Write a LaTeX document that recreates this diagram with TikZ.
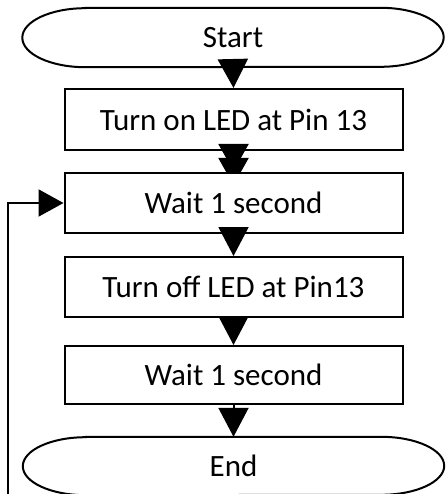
\documentclass[tikz,border=0pt]{standalone}
\usepackage{fontspec}
\setmainfont{Carlito}
\usetikzlibrary{arrows.meta,backgrounds}
\begin{document}
\begin{tikzpicture}[x=1pt,y=1pt,
  every node/.style={font=\fontsize{31pt}{37pt}\selectfont},
  ln/.style={line width=2pt,black},
  term/.style={minimum width=421pt,minimum height=59pt,inner sep=0pt},
  procbox/.style={draw,line width=2pt,minimum width=338pt,minimum height=60pt,inner sep=0pt},
  arr/.style={ln,-{Triangle[width=30pt,length=29pt]}},
  dbl/.style={ln,-{Triangle[width=30pt,length=27pt,sep=-13pt]Triangle[width=30pt,length=27pt]},shorten >=-13pt}
]
\useasboundingbox (0,0) rectangle (445,-494);
\node[term] (start) at (233,-37.5) {Start};
\node[procbox,minimum height=61pt] (b1) at (233.5,-119.5) {Turn on LED at Pin 13};
\node[procbox,fill=white] (b2) at (233.5,-203) {Wait 1 second};
\node[procbox] (b3) at (233.5,-287) {Turn off LED at Pin13};
\node[procbox,minimum height=58pt] (b4) at (233.5,-375) {Wait 1 second};
\node[term,minimum height=58pt] (end) at (233.5,-466) {End};
\draw[ln] ([xshift=63pt]start.north west) -- ([xshift=-63pt]start.north east)
  arc[start angle=90,end angle=-90,x radius=63pt,y radius=29.5pt]
  -- ([xshift=63pt]start.south west)
  arc[start angle=270,end angle=90,x radius=63pt,y radius=29.5pt] -- cycle;
\draw[ln] ([xshift=63pt]end.north west) -- ([xshift=-63pt]end.north east)
  arc[start angle=90,end angle=-90,x radius=63pt,y radius=29pt]
  -- ([xshift=63pt]end.south west)
  arc[start angle=270,end angle=90,x radius=63pt,y radius=29pt] -- cycle;
\coordinate (loopin) at (8,-494);
\begin{scope}[on background layer]
\draw[dbl] (b1.south) -- (b2.north);
\end{scope}
\draw[arr] (start.south) -- (b1.north);
\draw[arr] (b2.south) -- (b3.north);
\draw[arr] (b3.south) -- (b4.north);
\draw[arr] (b4.south) -- (end.north);
\draw[ln,-{Triangle[width=27pt,length=25pt]}] (loopin) |- (b2.west);
\end{tikzpicture}
\end{document}
